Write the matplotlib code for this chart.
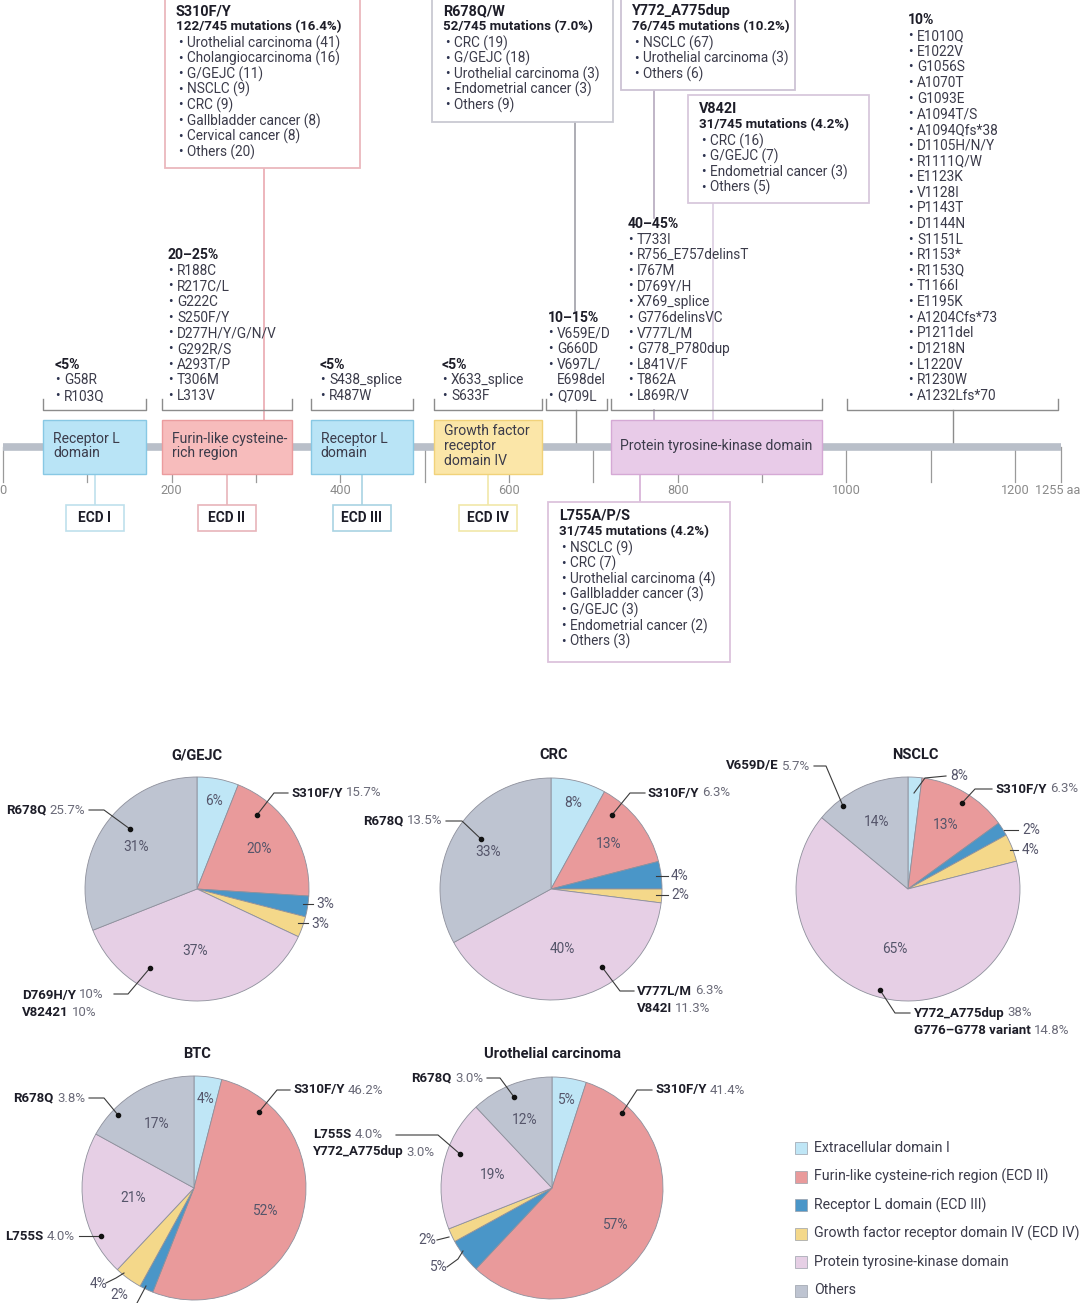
import numpy as np
import matplotlib
matplotlib.use("Agg")
import matplotlib.pyplot as plt
from matplotlib.patches import Rectangle

plt.rcParams['font.family'] = ['Roboto', 'DejaVu Sans']

W, H = 1080, 1303
FS = 9.8      # protein map text
PFS = 9.5     # pie text
TXT = "#3b3b4a"
DARK = "#1d1d28"

# ---------------- data: protein map ----------------
protein_length = 1255
domain_labels = ["Receptor L\ndomain", "Furin-like cysteine-\nrich region", "Receptor L\ndomain",
                 "Growth factor\nreceptor\ndomain IV", "Protein tyrosine-kinase domain"]
domain_start = [48, 188, 365, 511, 721]
domain_end = [170, 343, 486, 639, 971]
domain_ecd = ["ECD I", "ECD II", "ECD III", "ECD IV", None]

hotspot_labels = ["<5%", "20–25%", "<5%", "<5%", "10–15%", "40–45%", "10%"]
hotspot_start = [48, 188, 365, 511, 644, 721, 1001]
hotspot_end = [170, 343, 486, 639, 716, 971, 1251]
hotspot_mutations = [
    ["G58R", "R103Q"],
    ["R188C", "R217C/L", "G222C", "S250F/Y", "D277H/Y/G/N/V", "G292R/S", "A293T/P", "T306M", "L313V"],
    ["S438_splice", "R487W"],
    ["X633_splice", "S633F"],
    ["V659E/D", "G660D", "V697L/\nE698del", "Q709L"],
    ["T733I", "R756_E757delinsT", "I767M", "D769Y/H", "X769_splice", "G776delinsVC", "V777L/M",
     "G778_P780dup", "L841V/F", "T862A", "L869R/V"],
    ["E1010Q", "E1022V", "G1056S", "A1070T", "G1093E", "A1094T/S", "A1094Qfs*38", "D1105H/N/Y",
     "R1111Q/W", "E1123K", "V1128I", "P1143T", "D1144N", "S1151L", "R1153*", "R1153Q", "T1166I",
     "E1195K", "A1204Cfs*73", "P1211del", "D1218N", "L1220V", "R1230W", "A1232Lfs*70"],
]

total_mutations = 745
hot_names = ["S310F/Y", "R678Q/W", "Y772_A775dup", "V842I", "L755A/P/S"]
hot_pos = [310, 678, 772, 842, 755]
hot_count = [122, 52, 76, 31, 31]
hot_pct = [16.4, 7.0, 10.2, 4.2, 4.2]
hot_cancers = [
    [("Urothelial carcinoma", 41), ("Cholangiocarcinoma", 16), ("G/GEJC", 11), ("NSCLC", 9),
     ("CRC", 9), ("Gallbladder cancer", 8), ("Cervical cancer", 8), ("Others", 20)],
    [("CRC", 19), ("G/GEJC", 18), ("Urothelial carcinoma", 3), ("Endometrial cancer", 3), ("Others", 9)],
    [("NSCLC", 67), ("Urothelial carcinoma", 3), ("Others", 6)],
    [("CRC", 16), ("G/GEJC", 7), ("Endometrial cancer", 3), ("Others", 5)],
    [("NSCLC", 9), ("CRC", 7), ("Urothelial carcinoma", 4), ("Gallbladder cancer", 3),
     ("G/GEJC", 3), ("Endometrial cancer", 2), ("Others", 3)],
]

# ---------------- data: pies ----------------
categories = ["Extracellular domain I", "Furin-like cysteine-rich region (ECD II)",
              "Receptor L domain (ECD III)", "Growth factor receptor domain IV (ECD IV)",
              "Protein tyrosine-kinase domain", "Others"]
colors = ["#bfe6f6", "#e99a9b", "#4a96c8", "#f4d88a", "#e6cfe5", "#bec4d1"]

pie_titles = ["G/GEJC", "CRC", "NSCLC", "BTC", "Urothelial carcinoma"]
pie_shares = [[6, 20, 3, 3, 37, 31],
              [8, 13, 4, 2, 40, 33],
              [2, 13, 2, 4, 65, 14],
              [4, 52, 2, 4, 21, 17],
              [5, 57, 5, 2, 19, 12]]
pie_share_labels = [["6%", "20%", "3%", "3%", "37%", "31%"],
                    ["8%", "13%", "4%", "2%", "40%", "33%"],
                    ["8%", "13%", "2%", "4%", "65%", "14%"],
                    ["4%", "52%", "2%", "4%", "21%", "17%"],
                    ["5%", "57%", "5%", "2%", "19%", "12%"]]
pie_inside = [[1, 1, 0, 0, 1, 1], [1, 1, 0, 0, 1, 1], [0, 1, 0, 0, 1, 1],
              [1, 1, 0, 0, 1, 1], [1, 1, 0, 0, 1, 1]]

# hotspot call-outs per pie: names, percents
pie_callout_names = [[["R678Q"], ["S310F/Y"], ["D769H/Y", "V82421"]],
                     [["R678Q"], ["S310F/Y"], ["V777L/M", "V842I"]],
                     [["V659D/E"], ["S310F/Y"], ["Y772_A775dup", "G776–G778 variant"]],
                     [["R678Q"], ["S310F/Y"], ["L755S"]],
                     [["R678Q"], ["S310F/Y"], ["L755S", "Y772_A775dup"]]]
pie_callout_pcts = [[["25.7%"], ["15.7%"], ["10%", "10%"]],
                    [["13.5%"], ["6.3%"], ["6.3%", "11.3%"]],
                    [["5.7%"], ["6.3%"], ["38%", "14.8%"]],
                    [["3.8%"], ["46.2%"], ["4.0%"]],
                    [["3.0%"], ["41.4%"], ["4.0%", "3.0%"]]]

# ---------------- layout (pixels) ----------------
def to_aa(px):
    return (px - 3.0) / 0.8433

BAR_Y = 447
hotspot_text_x = [55, 168, 320, 442, 548, 628, 908]
hot_box = [(165, -3, 360, 168), (432, -3, 613, 122), (621, -3, 795, 90),
           (688, 95, 869, 203), (548, 502, 730, 662)]
hot_edge = ["#ebb8bd", "#c9c9d2", "#cdc3d4", "#d8c8dc", "#dcc3dc"]
hot_line = ["#eaa9b0", "#a0a0a8", "#b5a9bd", "#dccde2", "#d6aed6"]
hot_segments = [[(168, 420)], [(122, 313)], [(90, 218), (410, 420)], [(203, 420)], [(474, 502)]]
dom_face = ["#b9e4f6", "#f7bcbc", "#b9e4f6", "#fbe6a8", "#e8cbe8"]
dom_edge = ["#88c8e4", "#eb9c9e", "#88c8e4", "#f1d27a", "#d5a9d5"]
ecd_edge = ["#bfe0ec", "#e8b4ba", "#a9d3e3", "#f1e7a9"]

pie_geom = [(197, 889, 112), (551, 889, 111), (908, 889, 112), (194, 1188, 112), (552, 1188, 111)]
pie_title_x = [197, 554, 915, 197, 552]
callout_xy = [[(85, 810, "right"), (291, 793, "left"), (22, 995, "left")],
              [(442, 821, "right"), (648, 793, "left"), (637, 991, "left")],
              [(810, 766, "right"), (996, 789, "left"), (914, 1013, "left")],
              [(85, 1098, "right"), (293, 1090, "left"), (75, 1236, "right")],
              [(483, 1078, "right"), (655, 1090, "left"), (313, 1135, "left")]]
callout_path = [[[(89, 810), (104, 810), (130, 829)], [(288, 793), (274, 793), (257, 815)],
                 [(114, 994), (128, 994), (150, 968)]],
                [[(446, 821), (462, 821), (481, 839)], [(645, 793), (630, 793), (612, 815)],
                 [(634, 991), (620, 991), (602, 967)]],
                [[(814, 766), (826, 766), (843, 806)], [(992, 789), (975, 789), (962, 803)],
                 [(910, 1013), (895, 1013), (880, 990)]],
                [[(89, 1098), (104, 1098), (118, 1115)], [(290, 1090), (277, 1090), (259, 1112)],
                 [(79, 1236), (101, 1236)]],
                [[(487, 1078), (500, 1078), (514, 1097)], [(652, 1090), (637, 1090), (622, 1113)],
                 [(396, 1135), (438, 1135), (460, 1154)]]]
# small slices labelled outside: slice index, text position, leader path
outside_idx = [[2, 3], [2, 3], [0, 2, 3], [3, 2], [3, 2]]
outside_xy = [[(316, 904), (311, 924)], [(671, 876), (671, 895)],
              [(950, 776), (1022, 830), (1022, 850)], [(90, 1284), (110, 1295)],
              [(418, 1240), (429, 1267)]]
outside_path = [[[(303, 904), (313, 904)], [(298, 923), (308, 923)]],
                [[(656, 876), (668, 876)], [(656, 895), (668, 895)]],
                [[(946, 776), (925, 778), (914, 793)], [(1004, 830), (1018, 830)], [(1010, 850), (1018, 850)]],
                [[(106, 1283), (116, 1278), (124, 1273)], [(137, 1303), (146, 1286)]],
                [[(437, 1240), (449, 1237)], [(447, 1267), (458, 1259), (463, 1251)]]]

fig = plt.figure(figsize=(W / 100, H / 100), dpi=100)
fig.patch.set_facecolor("white")

# ---------------- protein map ----------------
ax = fig.add_axes([0, 0, 1, 1])
ax.set_xlim(to_aa(0), to_aa(W))
ax.set_ylim(H, 0)
ax.axis("off")

ax.plot([0, protein_length], [BAR_Y, BAR_Y], color="#b9bfc9", lw=5.5, solid_capstyle="butt", zorder=1)
ticks = list(range(0, protein_length, 100)) + [protein_length]
for t in ticks:
    ax.plot([t, t], [BAR_Y, 482], color="#9a9a9a", lw=0.9, zorder=0.5)
    if t == protein_length:
        ax.text(to_aa(1080), 490, f"{t} aa", ha="right", va="center", fontsize=9.2, color="#8a8a8a")
    elif t % 200 == 0:
        ax.text(t, 490, str(t), ha="center", va="center", fontsize=9.2, color="#8a8a8a")

for k, (lab, s, e) in enumerate(zip(domain_labels, domain_start, domain_end)):
    ax.add_patch(Rectangle((s, 420), e - s, 54, fc=dom_face[k], ec=dom_edge[k], lw=1, zorder=3))
    if k == 4:
        ax.text((s + e) / 2, 446, lab, ha="center", va="center", fontsize=FS + 0.3, color=TXT, zorder=4)
    else:
        ax.text(s + to_aa(13) - to_aa(3), 446, lab, ha="left", va="center", fontsize=FS + 0.3,
                color=TXT, linespacing=1.05, zorder=4)
    if domain_ecd[k]:
        mid = (s + e) / 2
        half = (to_aa(58) - to_aa(0)) / 2
        ax.plot([mid, mid], [474, 505], color=ecd_edge[k], lw=1.2, zorder=2)
        ax.add_patch(Rectangle((mid - half, 505), 2 * half, 26, fc="white", ec=ecd_edge[k], lw=1.2, zorder=3))
        ax.text(mid, 518.5, domain_ecd[k], ha="center", va="center", fontsize=FS, fontweight="bold",
                color=DARK, zorder=4)

PITCH = 15.65
bullet_dx = to_aa(9) - to_aa(0)
for lab, s, e, muts, tx in zip(hotspot_labels, hotspot_start, hotspot_end, hotspot_mutations, hotspot_text_x):
    ax.plot([s, s, e, e], [399, 410, 410, 399], color="#8c8c8c", lw=1, zorder=2)
    lines = []
    for m in muts:
        parts = m.split("\n")
        lines.append((True, parts[0]))
        for p in parts[1:]:
            lines.append((False, p))
    n = len(lines)
    x0 = to_aa(tx)
    for k, (bul, ln) in enumerate(lines):
        y = 396 - (n - 1 - k) * PITCH
        if bul:
            ax.text(x0, y, "•", ha="left", va="center", fontsize=FS, color="#2d3350", zorder=4)
        ax.text(x0 + bullet_dx, y, ln, ha="left", va="center", fontsize=FS, color=TXT, zorder=4)
    ax.text(x0, 396 - n * PITCH, lab, ha="left", va="center", fontsize=FS + 0.3,
            fontweight="bold", color=DARK, zorder=4)
    if s > 600 and (e - s) < 150 or s > 1000:
        mid = (s + e) / 2
        ax.plot([mid, mid], [410, BAR_Y], color="#8c8c8c", lw=1, zorder=0.8)

for k, name in enumerate(hot_names):
    x0, y0, x1, y1 = hot_box[k]
    ax.add_patch(Rectangle((to_aa(x0), y0), to_aa(x1) - to_aa(x0), y1 - y0, fc="white",
                           ec=hot_edge[k], lw=1.3, zorder=3))
    for ya, yb in hot_segments[k]:
        ax.plot([hot_pos[k], hot_pos[k]], [ya, yb], color=hot_line[k], lw=1.2, zorder=0.9)
    tx = to_aa(x0 + 11)
    ax.text(tx, y0 + 14, name, ha="left", va="center", fontsize=FS + 0.6, fontweight="bold",
            color=DARK, zorder=4)
    ax.text(tx, y0 + 30, f"{hot_count[k]}/{total_mutations} mutations ({hot_pct[k]:.1f}%)", ha="left",
            va="center", fontsize=FS - 0.2, fontweight="bold", color=DARK, zorder=4)
    for j, (cancer, cnt) in enumerate(hot_cancers[k]):
        y = y0 + 46 + j * 15.6
        ax.text(tx + to_aa(2) - to_aa(0), y, "•", ha="left", va="center", fontsize=FS, color="#2d3350", zorder=4)
        ax.text(tx + to_aa(11) - to_aa(0), y, f"{cancer} ({cnt})", ha="left", va="center",
                fontsize=FS, color=TXT, zorder=4)

# ---------------- pies ----------------
for i, (title, shares) in enumerate(zip(pie_titles, pie_shares)):
    cx, cy, r = pie_geom[i]
    R = r * 1.03
    pax = fig.add_axes([(cx - R) / W, 1 - (cy + R) / H, 2 * R / W, 2 * R / H])
    wedges, _ = pax.pie(shares, colors=colors, startangle=90, counterclock=False, radius=1,
                        wedgeprops=dict(edgecolor="#8e909c", linewidth=0.6))
    pax.set_xlim(-1.03, 1.03)
    pax.set_ylim(-1.03, 1.03)
    pax.axis("off")
    for k, w in enumerate(wedges):
        if not pie_inside[i][k]:
            continue
        th = np.deg2rad((w.theta1 + w.theta2) / 2)
        rl = 0.8 if k == 0 else (0.55 if k == 4 else 0.66)
        pax.text(rl * np.cos(th), rl * np.sin(th), pie_share_labels[i][k], ha="center", va="center",
                 fontsize=PFS + 0.4, color="#55556a")

cv = fig.add_axes([0, 0, 1, 1], zorder=10)
cv.patch.set_alpha(0)
cv.set_xlim(0, W)
cv.set_ylim(H, 0)
cv.axis("off")
rend = fig.canvas.get_renderer()


def name_pct(x, y, name, pct, ha):
    if ha == "left":
        t = cv.text(x, y, name, ha="left", va="center", fontsize=PFS, fontweight="bold", color=DARK)
        bb = t.get_window_extent(rend)
        cv.text(bb.x1 + 3, y, pct, ha="left", va="center", fontsize=PFS, color="#6a6a78")
    else:
        t = cv.text(x, y, pct, ha="right", va="center", fontsize=PFS, color="#6a6a78")
        bb = t.get_window_extent(rend)
        cv.text(bb.x0 - 3, y, name, ha="right", va="center", fontsize=PFS, fontweight="bold", color=DARK)


for i, title in enumerate(pie_titles):
    cx, cy, r = pie_geom[i]
    cv.text(pie_title_x[i], cy - 134, title, ha="center", va="center", fontsize=PFS + 1,
            fontweight="bold", color=DARK)
    for names, pcts, (x, y, ha), path in zip(pie_callout_names[i], pie_callout_pcts[i],
                                             callout_xy[i], callout_path[i]):
        for j, (nm, pc) in enumerate(zip(names, pcts)):
            name_pct(x, y + j * 17, nm, pc, ha)
        px_, py_ = zip(*path)
        cv.plot(px_, py_, color="#3a3a3a", lw=0.8)
        cv.plot(px_[-1], py_[-1], "o", ms=3, color="#111111")
    for k, (x, y), path in zip(outside_idx[i], outside_xy[i], outside_path[i]):
        cv.text(x, y, pie_share_labels[i][k], ha="left", va="center", fontsize=PFS + 0.4, color="#55556a")
        px_, py_ = zip(*path)
        cv.plot(px_, py_, color="#3a3a3a", lw=0.8)

for k, (cat, col) in enumerate(zip(categories, colors)):
    y = 1148 + k * 28.5
    cv.add_patch(Rectangle((795, y - 6), 12, 12, fc=col, ec="#9aa0aa", lw=0.5))
    cv.text(814, y, cat, ha="left", va="center", fontsize=PFS + 0.7, color=TXT)

fig.savefig("out.png", dpi=100)
